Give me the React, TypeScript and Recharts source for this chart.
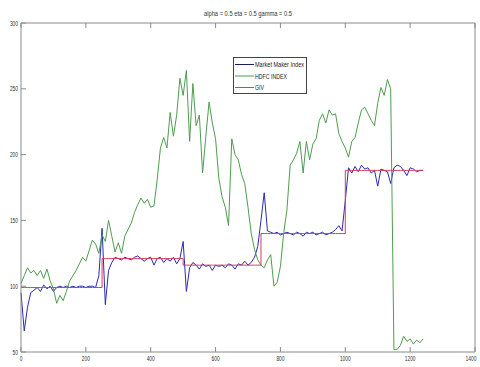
import { LineChart, Line, XAxis, YAxis } from 'recharts'

// sample spacing along the time axis
const SAMPLE_STEP = 10

const xTicks = [0, 200, 400, 600, 800, 1000, 1200, 1400]
const yTicks = [50, 100, 150, 200, 250, 300]

const hdfcIndex = [
  102, 108, 114, 110, 112, 108, 112, 106, 113, 104,
  98, 87, 93, 89, 96, 104, 108, 112, 117, 122,
  119, 127, 135, 132, 125, 139, 134, 150, 138, 126,
  133, 125, 138, 143, 148, 156, 162, 167, 163, 166,
  160, 161, 181, 205, 213, 205, 232, 214, 230, 258,
  245, 264, 210, 254, 222, 230, 186, 214, 240, 224,
  212, 182, 168, 160, 146, 212, 200, 196, 185, 178,
  160, 140, 128, 120, 116, 114, 120, 124, 100, 103,
  115, 140, 158, 192, 196, 201, 210, 186, 210, 196,
  208, 212, 226, 231, 224, 234, 230, 231, 216, 210,
  205, 198, 210, 213, 224, 234, 236, 231, 226, 222,
  239, 251, 245, 257, 250, 52, 52, 55, 62, 58,
  60, 56, 59, 57, 60,
]

const marketMakerIndex = [
  95, 66, 84, 95, 97, 99, 96, 101, 98, 100,
  96, 99, 100, 99, 100, 99, 100, 99, 100, 100,
  99, 100, 100, 99, 108, 144, 86, 112, 118, 122,
  121, 120, 122, 121, 120, 122, 123, 121, 119, 121,
  122, 116, 121, 122, 118, 121, 119, 122, 117, 121,
  134, 96, 114, 118, 116, 113, 117, 115, 116, 112,
  116, 115, 116, 114, 117, 116, 113, 117, 116, 119,
  116, 118, 122, 130, 150, 171, 142, 141, 140, 141,
  139, 140, 141, 140, 139, 141, 140, 138, 141, 140,
  141, 139, 140, 141, 139, 140, 141, 143, 146, 142,
  165, 190, 186, 191, 187, 192, 189, 190, 186, 188,
  176, 189, 188, 187, 178, 190, 192, 191, 188, 184,
  190, 189, 187, 188, 188,
]

const giv = [
  99, 99, 99, 99, 99, 99, 99, 99, 99, 99,
  99, 99, 99, 99, 99, 99, 99, 99, 99, 99,
  99, 99, 99, 99, 99, 121, 121, 121, 121, 121,
  121, 121, 121, 121, 121, 121, 121, 121, 121, 121,
  121, 121, 121, 121, 121, 121, 121, 121, 121, 121,
  116, 116, 116, 116, 116, 116, 116, 116, 116, 116,
  116, 116, 116, 116, 116, 116, 116, 116, 116, 116,
  116, 116, 116, 116, 140, 140, 140, 140, 140, 140,
  140, 140, 140, 140, 140, 140, 140, 140, 140, 140,
  140, 140, 140, 140, 140, 140, 140, 140, 140, 140,
  188, 188, 188, 188, 188, 188, 188, 188, 188, 188,
  188, 188, 188, 188, 188, 188, 188, 188, 188, 188,
  188, 188, 188, 188, 188,
]

const data = hdfcIndex.map((v, i) => ({
  t: i * SAMPLE_STEP,
  hdfc: v,
  mmi: marketMakerIndex[i],
  giv: giv[i],
}))

const W = 480
const H = 367
const PLOT_LEFT = 21
const PLOT_RIGHT = 475
const PLOT_TOP = 23
const PLOT_BOTTOM = 352

const AXIS = '#8a8a8a'
const LABEL = '#333'
const FONT = "'Liberation Sans', Arial, sans-serif"
// narrow glyph width used for squeezing labels
const CHAR_W = 2.7

const BLUE = '#2b2bb0'
const GREEN = '#4f9d4f'
const RED = '#d63c64'

function BottomTick({ x, payload }: any) {
  const label = String(payload.value)
  const w = label.length * CHAR_W
  // keep the last label inside the canvas
  const tx = Math.min(x, W - 9)
  return (
    <g>
      <line x1={x} x2={x} y1={PLOT_BOTTOM} y2={PLOT_BOTTOM - 5} stroke={AXIS} />
      <text
        x={tx}
        y={PLOT_BOTTOM + 9}
        textAnchor="middle"
        fontSize={7}
        fill={LABEL}
        fontFamily={FONT}
        textLength={w}
        lengthAdjust="spacingAndGlyphs"
      >
        {label}
      </text>
    </g>
  )
}

function TopTick({ x }: any) {
  return <line x1={x} x2={x} y1={PLOT_TOP} y2={PLOT_TOP + 5} stroke={AXIS} />
}

function LeftTick({ y, payload }: any) {
  const label = String(payload.value)
  return (
    <g>
      <line x1={PLOT_LEFT} x2={PLOT_LEFT + 5} y1={y} y2={y} stroke={AXIS} />
      <text
        x={PLOT_LEFT - 3}
        y={y + 2.5}
        textAnchor="end"
        fontSize={7}
        fill={LABEL}
        fontFamily={FONT}
        textLength={label.length * CHAR_W}
        lengthAdjust="spacingAndGlyphs"
      >
        {label}
      </text>
    </g>
  )
}

function RightTick({ y }: any) {
  return <line x1={PLOT_RIGHT} x2={PLOT_RIGHT - 5} y1={y} y2={y} stroke={AXIS} />
}

const legendItems = [
  { name: 'Market Maker Index', color: '#1c1c60', width: 49 },
  { name: 'HDFC INDEX', color: GREEN, width: 32 },
  { name: 'GIV', color: RED, width: 9 },
]

function LegendBox({ x, y }: { x: number; y: number }) {
  return (
    <g transform={`translate(${x},${y})`}>
      <rect x={0.5} y={0.5} width={73} height={36} fill="#fff" stroke="#444" />
      {legendItems.map((item, i) => {
        const cy = 7.5 + i * 11.5
        return (
          <g key={item.name}>
            <line x1={2} x2={21} y1={cy} y2={cy} stroke={item.color} />
            <text
              x={22}
              y={cy + 2.5}
              fontSize={7}
              fill="#222"
              fontFamily={FONT}
              textLength={item.width}
              lengthAdjust="spacingAndGlyphs"
            >
              {item.name}
            </text>
          </g>
        )
      })}
    </g>
  )
}

export default function App() {
  return (
    <div style={{ position: 'absolute', left: 0, top: 0, width: W, height: H, background: '#fff' }}>
      <LineChart width={W} height={H} data={data} margin={{ top: 0, right: 0, bottom: 0, left: 0 }}>
        <text
          x={(PLOT_LEFT + PLOT_RIGHT) / 2}
          y={16}
          textAnchor="middle"
          fontSize={7}
          fill={LABEL}
          fontFamily={FONT}
          textLength={88}
          lengthAdjust="spacingAndGlyphs"
        >
          alpha = 0.5 eta = 0.5 gamma = 0.5
        </text>
        <XAxis
          dataKey="t"
          type="number"
          domain={[0, 1400]}
          ticks={xTicks}
          height={H - PLOT_BOTTOM}
          axisLine={{ stroke: AXIS }}
          tickLine={false}
          tick={<BottomTick />}
          interval={0}
        />
        <XAxis
          xAxisId="top"
          dataKey="t"
          type="number"
          orientation="top"
          domain={[0, 1400]}
          ticks={xTicks}
          height={PLOT_TOP}
          axisLine={{ stroke: AXIS }}
          tickLine={false}
          tick={<TopTick />}
          interval={0}
        />
        <YAxis
          type="number"
          domain={[50, 300]}
          ticks={yTicks}
          width={PLOT_LEFT}
          axisLine={{ stroke: AXIS }}
          tickLine={false}
          tick={<LeftTick />}
          interval={0}
        />
        <YAxis
          yAxisId="right"
          type="number"
          orientation="right"
          domain={[50, 300]}
          ticks={yTicks}
          width={W - PLOT_RIGHT}
          axisLine={{ stroke: AXIS }}
          tickLine={false}
          tick={<RightTick />}
          interval={0}
        />
        <Line type="linear" dataKey="mmi" name="Market Maker Index" stroke={BLUE} strokeWidth={1} dot={false} isAnimationActive={false} />
        <Line type="linear" dataKey="hdfc" name="HDFC INDEX" stroke={GREEN} strokeWidth={1} dot={false} isAnimationActive={false} />
        <Line type="stepAfter" dataKey="giv" name="GIV" stroke={RED} strokeWidth={1} dot={false} isAnimationActive={false} />
        <LegendBox x={233} y={57} />
      </LineChart>
    </div>
  )
}
